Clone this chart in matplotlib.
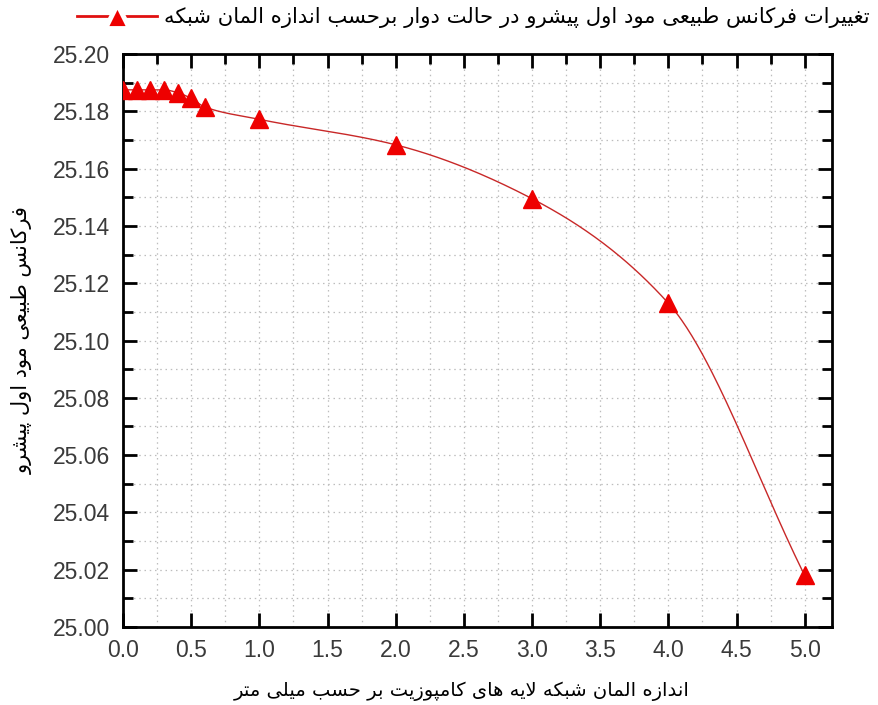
import numpy as np
import matplotlib
matplotlib.use('Agg')
import matplotlib.pyplot as plt
from matplotlib.ticker import MultipleLocator, FormatStrFormatter

# element size (mm) and first forward-mode natural frequency
element_size = [0.0, 0.1, 0.2, 0.3, 0.4, 0.5, 0.6, 1.0, 2.0, 3.0, 4.0, 5.0]
frequency    = [25.1875, 25.1875, 25.1875, 25.1875, 25.1865, 25.1845, 25.1815,
                25.1772, 25.1683, 25.1495, 25.1130, 25.0180]

legend_text = 'تغییرات فرکانس طبیعی مود اول پیشرو در حالت دوار برحسب اندازه المان شبکه'
ylabel_text = 'فرکانس طبیعی مود اول پیشرو'
xlabel_text = 'اندازه المان شبکه لایه های کامپوزیت بر حسب میلی متر'

# presentation forms: isolated, final, initial, medial
FORMS = {
  'ا': (0xFE8D, 0xFE8E), 'آ': (0xFE81, 0xFE82), 'د': (0xFEA9, 0xFEAA),
  'ذ': (0xFEAB, 0xFEAC), 'ر': (0xFEAD, 0xFEAE), 'ز': (0xFEAF, 0xFEB0),
  'ژ': (0xFB8A, 0xFB8B), 'و': (0xFEED, 0xFEEE),
  'ب': (0xFE8F,), 'ت': (0xFE95,), 'ث': (0xFE99,), 'ج': (0xFE9D,), 'ح': (0xFEA1,),
  'خ': (0xFEA5,), 'س': (0xFEB1,), 'ش': (0xFEB5,), 'ص': (0xFEB9,), 'ض': (0xFEBD,),
  'ط': (0xFEC1,), 'ظ': (0xFEC5,), 'ع': (0xFEC9,), 'غ': (0xFECD,), 'ف': (0xFED1,),
  'ق': (0xFED5,), 'ل': (0xFEDD,), 'م': (0xFEE1,), 'ن': (0xFEE5,), 'ه': (0xFEE9,),
  'پ': (0xFB56,), 'چ': (0xFB7A,), 'ک': (0xFB8E,), 'گ': (0xFB92,), 'ی': (0xFBFC,),
}
for k, v in list(FORMS.items()):
  if len(v) == 1:
    FORMS[k] = (v[0], v[0] + 1, v[0] + 2, v[0] + 3)


def dual(c):
  return c in FORMS and len(FORMS[c]) == 4


def shape(text):
  chars = list(text)
  n = len(chars)
  i = 0
  res = []
  while i < n:
    c = chars[i]
    prev = chars[i - 1] if i > 0 else ' '
    nxt = chars[i + 1] if i + 1 < n else ' '
    joins_prev = dual(prev) and c in FORMS
    if c == 'ل' and nxt == 'ا':
      res.append(chr(0xFEFC if joins_prev else 0xFEFB))
      i += 2
      continue
    if c not in FORMS:
      res.append(c)
      i += 1
      continue
    joins_next = dual(c) and nxt in FORMS
    f = FORMS[c]
    if joins_prev and joins_next:
      res.append(chr(f[3]))
    elif joins_prev:
      res.append(chr(f[1]))
    elif joins_next:
      res.append(chr(f[2]))
    else:
      res.append(chr(f[0]))
    i += 1
  return ''.join(res[::-1])


def smooth(x, y, num=400):
  # monotone cubic curve through the points, used only for drawing the line
  x = np.asarray(x, float)
  y = np.asarray(y, float)
  h = np.diff(x)
  d = np.diff(y) / h
  m = np.zeros_like(y)
  m[0], m[-1] = d[0], d[-1]
  for k in range(1, len(x) - 1):
    if d[k - 1] * d[k] <= 0:
      m[k] = 0
    else:
      w1 = 2 * h[k] + h[k - 1]
      w2 = h[k] + 2 * h[k - 1]
      m[k] = (w1 + w2) / (w1 / d[k - 1] + w2 / d[k])
  xs = np.linspace(x[0], x[-1], num)
  idx = np.clip(np.searchsorted(x, xs) - 1, 0, len(x) - 2)
  t = (xs - x[idx]) / h[idx]
  h00 = 2 * t**3 - 3 * t**2 + 1
  h10 = t**3 - 2 * t**2 + t
  h01 = -2 * t**3 + 3 * t**2
  h11 = t**3 - t**2
  ys = h00 * y[idx] + h10 * h[idx] * m[idx] + h01 * y[idx + 1] + h11 * h[idx] * m[idx + 1]
  return xs, ys


plt.rcParams['font.family'] = ['DejaVu Sans']

fig = plt.figure(figsize=(8.79, 7.05), dpi=100)
ax = fig.add_axes([0.140, 0.1106, 0.8065, 0.8128])

xs, ys = smooth(element_size, frequency)
ax.plot(xs, ys, color='#c82828', lw=1.0, zorder=3)
ax.plot(element_size, frequency, ls='none', marker='^', ms=12.5, color='#ee0000',
        markeredgecolor='#ee0000', zorder=4)
ax.plot([], [], color='#e01010', lw=2.0, marker='^', ms=17, markerfacecolor='#ee0000',
        markeredgecolor='white', markeredgewidth=3.5, label=shape(legend_text))

ax.set_xlim(0, 5.2)
ax.set_ylim(25.0, 25.2)
ax.xaxis.set_major_locator(MultipleLocator(0.5))
ax.xaxis.set_minor_locator(MultipleLocator(0.25))
ax.yaxis.set_major_locator(MultipleLocator(0.02))
ax.yaxis.set_minor_locator(MultipleLocator(0.01))
ax.xaxis.set_major_formatter(FormatStrFormatter('%.1f'))
ax.yaxis.set_major_formatter(FormatStrFormatter('%.2f'))

ax.grid(True, which='both', ls=(0, (1.2, 3)), color='#bdbdbd', lw=0.9)
for s in ax.spines.values():
  s.set_linewidth(2)
ax.tick_params(which='both', direction='in', top=True, right=True, width=2,
               labelsize=16.5, labelcolor='#3a3a3a', labelfontfamily='Liberation Sans')
ax.tick_params(which='major', length=10)
ax.tick_params(which='minor', length=7, bottom=False)
ax.tick_params(axis='y', which='major', pad=9.5)
ax.tick_params(axis='x', which='major', pad=8.5)

ax.set_xlabel(shape(xlabel_text), fontsize=14)
ax.set_ylabel(shape(ylabel_text), fontsize=15)
ax.xaxis.set_label_coords(0.478, -0.095)
ax.yaxis.set_label_coords(-0.128, 0.50)

fig.legend(loc='center left', bbox_to_anchor=(0.0876, 1 - 18 / 705), frameon=False,
           markerfirst=True, fontsize=15.2, handlelength=3.8, handletextpad=0.3,
           borderpad=0, borderaxespad=0)

fig.savefig('out.png', dpi=100)
